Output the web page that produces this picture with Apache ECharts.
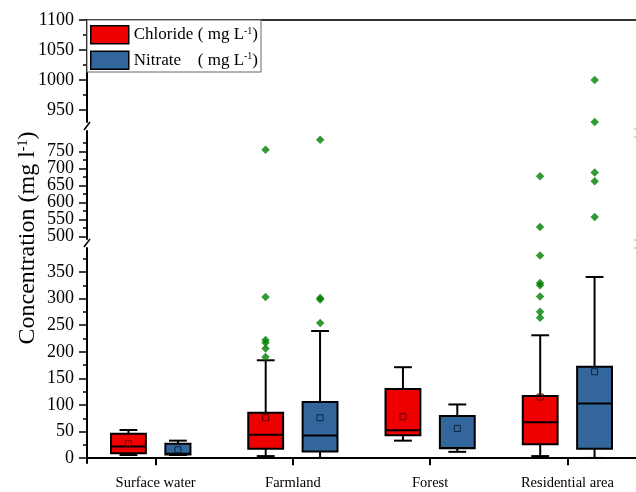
<!DOCTYPE html>
<html>
<head>
<meta charset="utf-8">
<script src="https://cdn.jsdelivr.net/npm/echarts@6/dist/echarts.min.js"></script>
<style>
  html, body { margin: 0; padding: 0; background: #fff; }
  #chart { width: 636px; height: 492px; }
</style>
</head>
<body>
<div id="chart"></div>
<script>
// Land-use categories on the x axis
const categories = ['Surface water', 'Farmland', 'Forest', 'Residential area'];

// Box statistics per category: [min whisker, Q1, median, Q3, max whisker]
const chlorideStats = [
  [6, 9.5, 22, 46, 53],
  [4, 18, 44, 85.5, 184],
  [33, 43, 52.5, 130, 171],
  [4, 26, 67.5, 117, 231]
];
const chlorideMean = [27, 76, 78, 115];
const chlorideOutliers = [
  [],
  [190, 206, 217, 222, 303, 755],
  [],
  [264, 275, 304, 325, 329, 381, 527, 677]
];

const nitrateStats = [
  [6, 7, 8.5, 27, 33],
  [0.5, 12.5, 42.5, 105.5, 239],
  [12, 18.5, 19, 79.5, 101],
  [0.5, 18, 103, 172, 340.5]
];
const nitrateMean = [16, 76, 56, 162.5];
const nitrateOutliers = [
  [],
  [254, 298, 301, 784],
  [],
  [557, 662, 688, 930, 1000]
];

// Tick values of the three pieces of the broken concentration axis
const topTicks = [950, 1000, 1050, 1100];
const topMinorTicks = [975, 1025, 1075];
const middleTicks = [500, 550, 600, 650, 700, 750];
const middleMinorTicks = [525, 575, 625, 675, 725, 775];
const bottomTicks = [0, 50, 100, 150, 200, 250, 300, 350];
const bottomMinorTicks = [25, 75, 125, 175, 225, 275, 325, 375];

const SERIF = '"Liberation Serif", "DejaVu Serif", "Times New Roman", serif';
const RED = '#EE0000';
const BLUE = '#33669A';
const GREEN = '#008000';

// layout of the axis pieces (top to bottom)
const segments = [
  { top: 20,  height: 102, min: 930, max: 1100, major: topTicks,    minor: topMinorTicks },
  { top: 131, height: 108, min: 492, max: 810,  major: middleTicks, minor: middleMinorTicks },
  { top: 248, height: 215, min: -9,  max: 395,  major: bottomTicks, minor: bottomMinorTicks }
];
const PLOT_LEFT = 87;
const PLOT_WIDTH = 551;

const BOX_W = 0.254;      // box width as a share of the category band
const BOX_OFF = 0.198;    // box centre offset as a share of the band
const CAP_W = 0.13;       // whisker cap width as a share of the band
const narrowNitrate = { 0: 0.72 };  // the surface-water nitrate box is drawn narrower

const grid = segments.map(s => ({ left: PLOT_LEFT, width: PLOT_WIDTH, top: s.top, height: s.height }));

const xAxis = segments.map((s, i) => ({
  type: 'category',
  gridIndex: i,
  data: categories,
  boundaryGap: true,
  show: i === 2,
  axisLine: { show: true, lineStyle: { color: '#000', width: 2 } },
  axisTick: { show: true, alignWithLabel: true, inside: false, length: 7, lineStyle: { color: '#000', width: 2 } },
  axisLabel: { fontFamily: SERIF, fontSize: 14.5, color: '#000', margin: 13 },
  splitLine: { show: false }
}));
// frame line along the top of the plot
xAxis.push({
  type: 'category', gridIndex: 0, position: 'top', data: categories, boundaryGap: true,
  axisLine: { show: true, lineStyle: { color: '#333', width: 2 } },
  axisTick: { show: false }, axisLabel: { show: false }, splitLine: { show: false }
});

// Two value axes per piece: one carries the long ticks, the other the short
// ones; the labels alternate between them so that none of them is dropped.
const labelStyle = {
  formatter: v => String(v),
  showMinLabel: true, showMaxLabel: true, hideOverlap: false,
  fontFamily: SERIF, fontSize: 18, color: '#000', margin: 13
};
const yAxis = [];
segments.forEach((s, i) => {
  const evenLabels = s.major.filter((v, k) => k % 2 === 0);
  const oddLabels = s.major.filter((v, k) => k % 2 === 1);
  yAxis.push({
    type: 'value', gridIndex: i, position: 'left', min: s.min, max: s.max,
    axisLine: { show: true, lineStyle: { color: '#000', width: 2 } },
    axisTick: { show: true, inside: false, length: 8, customValues: s.major, lineStyle: { color: '#000', width: 1.5 } },
    axisLabel: Object.assign({ customValues: evenLabels }, labelStyle),
    splitLine: { show: false }
  });
  yAxis.push({
    type: 'value', gridIndex: i, position: 'left', min: s.min, max: s.max,
    axisLine: { show: false },
    axisTick: { show: true, inside: false, length: 4, customValues: s.minor, lineStyle: { color: '#000', width: 1.5 } },
    axisLabel: Object.assign({ customValues: oddLabels }, labelStyle),
    splitLine: { show: false }
  });
});

function boxRenderer(offsetRatio, fill, meanStroke, narrow) {
  return function (params, api) {
    const cat = api.value(0);
    const band = api.size([1, 0])[0];
    const center = api.coord([cat, 0])[0];
    let w = band * BOX_W;
    const left = center + band * offsetRatio - w / 2;
    if (narrow && narrow[cat]) w = w * narrow[cat];
    const cx = left + w / 2;
    const y = v => api.coord([cat, v])[1];
    const lo = api.value(1), q1 = api.value(2), med = api.value(3), q3 = api.value(4), hi = api.value(5), mean = api.value(6);
    const capHalf = band * CAP_W / 2;
    const line = (x1, y1, x2, y2) => ({
      type: 'line', shape: { x1, y1, x2, y2 }, style: { stroke: '#000', lineWidth: 2 }
    });
    return {
      type: 'group',
      children: [
        line(cx, y(hi), cx, y(q3)),
        line(cx - capHalf, y(hi), cx + capHalf, y(hi)),
        line(cx, y(q1), cx, y(lo)),
        line(cx - capHalf, y(lo), cx + capHalf, y(lo)),
        { type: 'rect', shape: { x: left, y: y(q3), width: w, height: y(q1) - y(q3) },
          style: { fill: fill, stroke: '#000', lineWidth: 2 } },
        line(left, y(med), left + w, y(med)),
        { type: 'rect', shape: { x: cx - 3, y: y(mean) - 3, width: 6, height: 6 },
          style: { fill: 'none', stroke: meanStroke, lineWidth: 1 } }
      ]
    };
  };
}

function boxData(stats, means) {
  return categories.map((c, i) => [i].concat(stats[i], [means[i]]));
}

const series = [
  {
    name: 'Chloride', type: 'custom', xAxisIndex: 2, yAxisIndex: 4,
    renderItem: boxRenderer(-BOX_OFF, RED, '#5a0000', null),
    encode: { x: 0, y: [1, 2, 3, 4, 5] },
    data: boxData(chlorideStats, chlorideMean),
    itemStyle: { color: RED }, silent: true
  },
  {
    name: 'Nitrate', type: 'custom', xAxisIndex: 2, yAxisIndex: 4,
    renderItem: boxRenderer(BOX_OFF, BLUE, '#0b2447', narrowNitrate),
    encode: { x: 0, y: [1, 2, 3, 4, 5] },
    data: boxData(nitrateStats, nitrateMean),
    itemStyle: { color: BLUE }, silent: true
  }
];

// outliers, split over the three axis pieces
[[chlorideOutliers, -1, 'Chloride outliers'], [nitrateOutliers, 1, 'Nitrate outliers']].forEach(([list, side, name]) => {
  segments.forEach((s, g) => {
    const pts = [];
    list.forEach((vals, i) => vals.forEach(v => { if (v >= s.min && v <= s.max) pts.push([i, v]); }));
    series.push({
      name: name, type: 'scatter', xAxisIndex: g, yAxisIndex: g * 2,
      symbol: 'diamond', symbolSize: 8.5, clip: false, silent: true,
      symbolOffset: [side * 27.3, 0],
      itemStyle: { color: GREEN },
      data: pts
    });
  });
});

const chart = echarts.init(document.getElementById('chart'), null, { renderer: 'canvas' });
chart.setOption({
  animation: false,
  backgroundColor: '#fff',
  grid: grid,
  xAxis: xAxis,
  yAxis: yAxis,
  legend: {
    left: PLOT_LEFT, top: 20, orient: 'vertical',
    data: [
      { name: 'Chloride', icon: 'rect', itemStyle: { color: RED, borderColor: '#000', borderWidth: 1.5 } },
      { name: 'Nitrate', icon: 'rect', itemStyle: { color: BLUE, borderColor: '#000', borderWidth: 1.5 } }
    ],
    itemWidth: 38, itemHeight: 18, itemGap: 6,
    padding: [5, 3, 2, 3],
    borderColor: '#666', borderWidth: 1, backgroundColor: '#fff',
    selectedMode: false,
    formatter: name => '{n|' + name + '}{u|( mg L}{s|-1}{u|)}',
    textStyle: {
      fontFamily: SERIF, fontSize: 17, color: '#000',
      rich: {
        n: { fontFamily: SERIF, fontSize: 17, width: 64, color: '#000' },
        u: { fontFamily: SERIF, fontSize: 17, color: '#000' },
        s: { fontFamily: SERIF, fontSize: 10, color: '#000', verticalAlign: 'top' }
      }
    }
  },
  graphic: [
    {
      type: 'text', x: 28, y: 238, rotation: Math.PI / 2, silent: true,
      style: {
        text: '{t|Concentration (mg l}{s|-1}{t|)}',
        align: 'center', verticalAlign: 'middle',
        rich: {
          t: { fontFamily: SERIF, fontSize: 24, fill: '#000' },
          s: { fontFamily: SERIF, fontSize: 14, fill: '#000', verticalAlign: 'top' }
        }
      }
    },
    // break marks on the left axis
    { type: 'line', silent: true, shape: { x1: 84, y1: 130, x2: 90, y2: 122 }, style: { stroke: '#000', lineWidth: 1.5 } },
    { type: 'line', silent: true, shape: { x1: 84, y1: 247, x2: 90, y2: 239 }, style: { stroke: '#000', lineWidth: 1.5 } },
    // break marks on the right edge
    { type: 'line', silent: true, shape: { x1: 634, y1: 129, x2: 636, y2: 129 }, style: { stroke: '#aaa', lineWidth: 1 } },
    { type: 'line', silent: true, shape: { x1: 634, y1: 137, x2: 636, y2: 137 }, style: { stroke: '#aaa', lineWidth: 1 } },
    { type: 'line', silent: true, shape: { x1: 634, y1: 240, x2: 636, y2: 240 }, style: { stroke: '#aaa', lineWidth: 1 } },
    { type: 'line', silent: true, shape: { x1: 634, y1: 248, x2: 636, y2: 248 }, style: { stroke: '#aaa', lineWidth: 1 } }
  ],
  series: series
});
</script>
</body>
</html>
